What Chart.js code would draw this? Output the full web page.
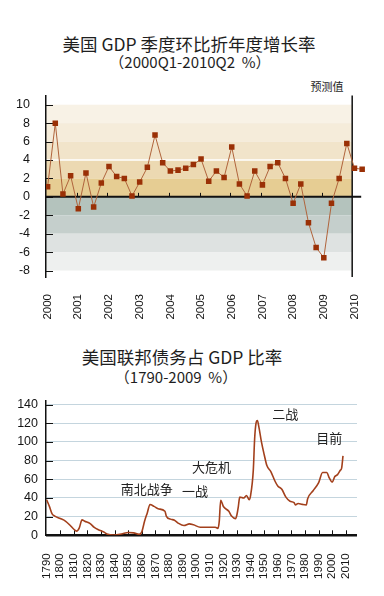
<!DOCTYPE html>
<html>
<head>
<meta charset="utf-8">
<script src="https://cdn.jsdelivr.net/npm/chart.js@4.4.1/dist/chart.umd.min.js"></script>
<style>
  body { margin: 0; background: #fff; }
  #page { position: relative; width: 384px; height: 596px; overflow: hidden; font-family: "Noto Sans CJK SC", sans-serif; color: #1e1e1e; }
  .t { position: absolute; left: 0; width: 378px; text-align: center; white-space: pre; }
  .big { font-size: 17.5px; line-height: 17.5px; }
  .sub { font-size: 15px; line-height: 15px; }
  canvas { position: absolute; left: 0; }
</style>
</head>
<body>
<div id="page">
  <div class="t big" style="top:35px">美国 GDP 季度环比折年度增长率</div>
  <div class="t sub" style="top:54px;width:380px">（2000Q1-2010Q2  %）</div>
  <div class="t" style="top:81px;left:310px;width:34px;font-size:11px;line-height:11px">预测值</div>
  <canvas id="gdpChart" width="384" height="250" style="top:80px"></canvas>

  <div class="t big" style="top:348px;width:364px">美国联邦债务占 GDP 比率</div>
  <div class="t sub" style="top:369px;width:352px">（1790-2009  %）</div>
  <canvas id="debtChart" width="384" height="205" style="top:385px"></canvas>
</div>

<script>
// 季度 GDP 环比折年率（2000Q1 - 2010Q2，最后两个为预测值）
const gdpYears = ["2000", "2001", "2002", "2003", "2004", "2005", "2006", "2007", "2008", "2009", "2010"];
const gdpGrowth = [
  1.1, 8.0, 0.3, 2.3, -1.3, 2.6, -1.1, 1.5,
  3.3, 2.2, 2.0, 0.1, 1.6, 3.2, 6.7, 3.7,
  2.8, 2.9, 3.1, 3.5, 4.1, 1.7, 2.8, 2.1,
  5.4, 1.4, 0.1, 2.8, 1.3, 3.3, 3.7, 2.0,
  -0.7, 1.4, -2.8, -5.5, -6.6, -0.7, 2.0, 5.8,
  3.1, 3.0
];
const gdpTicks = [10, 8, 6, 4, 2, 0, -2, -4, -6, -8];
const forecastFrom = 39.7; // 预测分界（季度序号）

// 联邦债务占 GDP 比率（1790 - 2009）
const debtYears = [
  1790, 1792, 1794, 1796, 1800, 1804, 1807, 1810, 1812, 1814, 1816, 1818, 1822, 1825, 1828,
  1832, 1835, 1839, 1845, 1850, 1854, 1858, 1860, 1862, 1864, 1866, 1869, 1872, 1877, 1878,
  1881, 1884, 1887, 1891, 1895, 1898, 1903, 1908, 1914, 1916, 1917, 1918, 1920, 1924, 1926,
  1929, 1930, 1931, 1932, 1935, 1937, 1939, 1940, 1942, 1943, 1944, 1945, 1946, 1948, 1950,
  1952, 1955, 1958, 1960, 1963, 1966, 1969, 1972, 1973, 1975, 1978, 1981, 1982, 1986, 1990,
  1993, 1996, 1998, 2000, 2002, 2004, 2006, 2007, 2008
];
const debtRatio = [
  38, 31, 23, 20.5, 18, 15, 11, 6.5, 4.5, 8, 16.5, 15, 12.5, 8.5, 6,
  3.5, 1, 0.3, 1.3, 3, 2.6, 1, 3.7, 15, 24, 33, 31, 28.4, 25.7, 20.6,
  17.3, 16.2, 12.8, 10.5, 12.2, 11.2, 8.7, 8.7, 8.7, 7.4, 15.5, 37.6, 30.8, 25.7, 20.6,
  17.9, 22.3, 30.8, 40.9, 39.9, 42.6, 38.2, 42.6, 69.6, 103.6, 120, 123, 117, 100, 86.6,
  74.7, 68, 57.9, 52.8, 49.3, 40.9, 36.5, 35.1, 32.5, 34.1, 33.1, 32.5, 39.2, 47.7, 56.1,
  67.3, 67.3, 61.2, 56.9, 62.9, 65, 69.6, 72, 85
];
const decadeLabels = [1790, 1800, 1810, 1820, 1830, 1840, 1850, 1860, 1870, 1880, 1890, 1900,
  1910, 1920, 1930, 1940, 1950, 1960, 1970, 1980, 1990, 2000, 2010];
const debtNotes = [
  { text: "南北战争", year: 1863.6, value: 49 },
  { text: "一战", year: 1899.2, value: 47.6 },
  { text: "大危机", year: 1911.2, value: 73 },
  { text: "二战", year: 1965.6, value: 130 },
  { text: "目前", year: 1997.9, value: 104 }
];

const bandColors = ["#f8f2e6", "#f5ecda", "#f1e4ca", "#ecd9b2", "#e6cd93",
                    "#b4c3bd", "#c5cfcc", "#dee2e1", "#eef0ef"];

Chart.defaults.font.family = '"Liberation Sans", Arial, sans-serif';
Chart.defaults.color = "#151515";

// 上图：背景色带、零线、年份刻度、预测分界线
const gdpDecor = {
  id: "gdpDecor",
  beforeDraw(chart) {
    const { ctx, chartArea, scales: { x, y } } = chart;
    const right = x.getPixelForValue(forecastFrom);
    ctx.save();
    for (let i = 0; i < gdpTicks.length - 1; i++) {
      const y1 = y.getPixelForValue(gdpTicks[i]);
      const y2 = y.getPixelForValue(gdpTicks[i + 1]);
      ctx.fillStyle = bandColors[i];
      ctx.fillRect(chartArea.left, y1, right - chartArea.left, y2 - y1);
    }
    ctx.strokeStyle = "#fff";
    ctx.lineWidth = 1.5;
    ctx.beginPath();
    ctx.moveTo(chartArea.left, y.getPixelForValue(4));
    ctx.lineTo(right, y.getPixelForValue(4));
    ctx.stroke();
    ctx.restore();
  },
  beforeDatasetsDraw(chart) {
    const { ctx, chartArea, scales: { x, y } } = chart;
    const right = x.getPixelForValue(forecastFrom);
    const y0 = y.getPixelForValue(0);
    ctx.save();
    ctx.strokeStyle = "#111";
    ctx.lineWidth = 1;
    ctx.beginPath();
    gdpTicks.forEach(v => {
      const py = Math.round(y.getPixelForValue(v)) + 0.5;
      ctx.moveTo(chartArea.left, py);
      ctx.lineTo(chartArea.left + 7, py);
    });
    for (let k = 1; k < gdpYears.length - 1; k++) {
      const px = Math.round(x.getPixelForValue(k * 4 - 0.2)) + 0.5;
      ctx.moveTo(px, y0);
      ctx.lineTo(px, y0 - 4);
    }
    ctx.stroke();
    ctx.lineWidth = 2;
    ctx.beginPath();
    ctx.moveTo(chartArea.left, y0);
    ctx.lineTo(right + 9, y0);
    ctx.stroke();
    ctx.lineWidth = 1.5;
    ctx.beginPath();
    ctx.moveTo(right, chartArea.top);
    ctx.lineTo(right, chartArea.bottom);
    ctx.stroke();
    ctx.restore();
  }
};

new Chart(document.getElementById("gdpChart"), {
  type: "line",
  data: {
    datasets: [{
      data: gdpGrowth.map((v, i) => ({ x: i, y: v })),
      borderColor: "#b0643c",
      borderWidth: 1,
      tension: 0,
      pointStyle: "rect",
      pointRadius: 3.9,
      pointBackgroundColor: "#9a3006",
      pointBorderWidth: 0
    }]
  },
  options: {
    responsive: false,
    animation: false,
    devicePixelRatio: 1,
    layout: { padding: { top: 15, right: 18, left: 0, bottom: 0 } },
    plugins: { legend: { display: false }, tooltip: { enabled: false } },
    scales: {
      x: {
        type: "linear",
        min: -0.21,
        max: 41.5,
        afterFit(s) { s.height = 53; },
        afterBuildTicks(s) { s.ticks = gdpYears.map((_, k) => ({ value: k * 4 })); },
        grid: { display: false },
        border: { display: false },
        ticks: {
          autoSkip: false, minRotation: 90, maxRotation: 90, padding: 9,
          font: { size: 11.5 },
          callback: v => gdpYears[v / 4]
        }
      },
      y: {
        min: -8.7,
        max: 11,
        afterFit(s) { s.width = 46; },
        afterBuildTicks(s) { s.ticks = gdpTicks.map(v => ({ value: v })); },
        grid: { display: false },
        border: { display: true, color: "#111", width: 1.5 },
        ticks: { padding: 8, font: { size: 12.5 } }
      }
    }
  },
  plugins: [gdpDecor]
});

// 下图：x 轴粗线、年代刻度、事件注释
const debtDecor = {
  id: "debtDecor",
  beforeDatasetsDraw(chart) {
    const { ctx, chartArea, scales: { x, y } } = chart;
    ctx.save();
    ctx.strokeStyle = "#111";
    ctx.lineWidth = 1;
    ctx.beginPath();
    y.ticks.forEach(t => {
      const py = Math.round(y.getPixelForValue(t.value)) + 0.5;
      ctx.moveTo(chartArea.left, py);
      ctx.lineTo(chartArea.left + 7, py);
    });
    decadeLabels.slice(1).forEach(yr => {
      const px = Math.round(x.getPixelForValue(yr)) + 0.5;
      ctx.moveTo(px, chartArea.bottom);
      ctx.lineTo(px, chartArea.bottom - 5);
    });
    ctx.stroke();
    ctx.lineWidth = 2.5;
    ctx.beginPath();
    ctx.moveTo(chartArea.left, chartArea.bottom);
    ctx.lineTo(chartArea.right, chartArea.bottom);
    ctx.stroke();
    ctx.restore();
  },
  afterDatasetsDraw(chart) {
    const { ctx, scales: { x, y } } = chart;
    ctx.save();
    ctx.font = '13px "Noto Sans CJK SC", sans-serif';
    ctx.fillStyle = "#222";
    ctx.textAlign = "center";
    ctx.textBaseline = "middle";
    debtNotes.forEach(n => ctx.fillText(n.text, x.getPixelForValue(n.year), y.getPixelForValue(n.value)));
    ctx.restore();
  }
};

new Chart(document.getElementById("debtChart"), {
  type: "line",
  data: {
    datasets: [{
      data: debtYears.map((yr, i) => ({ x: yr, y: debtRatio[i] })),
      borderColor: "#a3401c",
      borderWidth: 1.6,
      cubicInterpolationMode: "monotone",
      pointRadius: 0
    }]
  },
  options: {
    responsive: false,
    animation: false,
    devicePixelRatio: 1,
    layout: { padding: { top: 8, right: 27, left: 0, bottom: 0 } },
    plugins: { legend: { display: false }, tooltip: { enabled: false } },
    scales: {
      x: {
        type: "linear",
        min: 1789.5,
        max: 2018.3,
        afterFit(s) { s.height = 54.7; },
        afterBuildTicks(s) { s.ticks = decadeLabels.map(v => ({ value: v })); },
        grid: { display: false },
        border: { display: false },
        ticks: {
          autoSkip: false, minRotation: 90, maxRotation: 90, padding: 10,
          font: { size: 11.5 },
          callback: v => String(v)
        }
      },
      y: {
        min: 0,
        max: 144.4,
        afterFit(s) { s.width = 46; },
        afterBuildTicks(s) { s.ticks = [0, 20, 40, 60, 80, 100, 120, 140].map(v => ({ value: v })); },
        grid: {
          color: ctx => ctx.tick && ctx.tick.value === 0 ? "rgba(0,0,0,0)" : "#c4d5de",
          drawTicks: false
        },
        border: { display: true, color: "#111", width: 1.5 },
        ticks: { padding: 8, font: { size: 12.5 } }
      }
    }
  },
  plugins: [debtDecor]
});
</script>
</body>
</html>
